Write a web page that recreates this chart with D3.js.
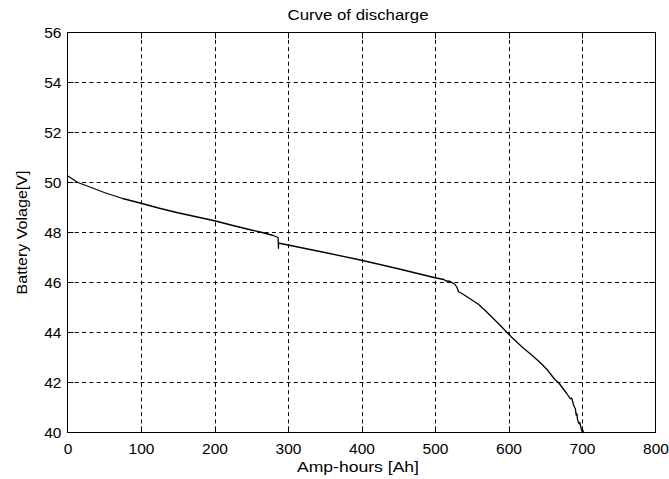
<!DOCTYPE html>
<html>
<head>
<meta charset="utf-8">
<script src="https://cdn.jsdelivr.net/npm/d3@7"></script>
<style>
  html, body { margin: 0; padding: 0; background: #fff; }
  svg { display: block; }
  text { font-family: "Liberation Sans", Arial, sans-serif; fill: #000; }
</style>
</head>
<body>
<svg id="chart" width="669" height="479"></svg>
<script>
// Discharge curve: cumulative amp-hours vs. battery voltage
const ampHours = [0, 14, 25, 50, 75, 100, 125, 150, 175, 200, 225, 250, 265, 280, 286.5, 287, 287, 288, 300, 350, 400, 450, 500, 512, 515, 520, 527, 530, 532, 536, 545, 559, 569, 579, 590, 597, 604, 620, 632, 643, 653, 663, 668, 679, 684, 686, 688.5, 690, 691, 692, 693, 694, 696, 697, 699, 700, 701, 702, 703];
const voltage  = [50.27, 50.0, 49.88, 49.6, 49.36, 49.17, 48.97, 48.79, 48.63, 48.47, 48.28, 48.1, 48.0, 47.88, 47.8, 47.37, 47.6, 47.57, 47.5, 47.2, 46.89, 46.55, 46.19, 46.12, 46.06, 46.05, 45.93, 45.8, 45.63, 45.57, 45.4, 45.13, 44.86, 44.57, 44.25, 44.03, 43.82, 43.38, 43.09, 42.8, 42.5, 42.12, 42.0, 41.57, 41.35, 41.38, 41.1, 41.0, 40.95, 40.7, 40.75, 40.5, 40.35, 40.4, 40.15, 40.05, 40.1, 40.0, 40.0];

const xTicks = [0, 100, 200, 300, 400, 500, 600, 700, 800];
const yTicks = [40, 42, 44, 46, 48, 50, 52, 54, 56];

const title = "Curve of discharge";
const xLabel = "Amp-hours [Ah]";
const yLabel = "Battery Volage[V]";

const svg = d3.select("#chart");
const plotL = 67.5, plotR = 655.5, plotT = 32.5, plotB = 432.5;

const x = d3.scaleLinear().domain([0, 800]).range([plotL, plotR]);
const y = d3.scaleLinear().domain([40, 56]).range([plotB, plotT]);

// Dashed grid
const grid = svg.append("g")
  .attr("stroke", "#000")
  .attr("stroke-width", 1)
  .attr("stroke-dasharray", "4,3.3");
grid.selectAll("line.v").data(xTicks.slice(1, -1)).join("line")
  .attr("x1", d => Math.round(x(d)) + 0.5).attr("x2", d => Math.round(x(d)) + 0.5)
  .attr("y1", plotT).attr("y2", plotB);
grid.selectAll("line.h").data(yTicks.slice(1, -1)).join("line")
  .attr("y1", d => Math.round(y(d) - 0.5) + 0.5).attr("y2", d => Math.round(y(d) - 0.5) + 0.5)
  .attr("x1", plotL).attr("x2", plotR);

// Discharge line
const pts = ampHours.map((a, i) => [a, voltage[i]]);
svg.append("path")
  .datum(pts)
  .attr("fill", "none")
  .attr("stroke", "#000")
  .attr("stroke-width", 1.3)
  .attr("stroke-linejoin", "round")
  .attr("d", d3.line().x(d => x(d[0])).y(d => y(d[1])));

// Axes box
svg.append("rect")
  .attr("x", plotL).attr("y", plotT)
  .attr("width", plotR - plotL).attr("height", plotB - plotT)
  .attr("fill", "none").attr("stroke", "#000").attr("stroke-width", 1);

// Axes with inward ticks on all sides
const xAxis = d3.axisBottom(x).tickValues(xTicks).tickSize(0).tickPadding(10).tickFormat(d3.format("d"));
const yAxis = d3.axisLeft(y).tickValues(yTicks).tickSize(0).tickPadding(6).tickFormat(d3.format("d"));

const gx = svg.append("g").attr("transform", `translate(0,${plotB})`).call(xAxis);
const gy = svg.append("g").attr("transform", `translate(${plotL},0)`).call(yAxis);
[gx, gy].forEach(g => {
  g.select(".domain").remove();
  g.selectAll("text").attr("font-size", 15.5).attr("font-family", "Liberation Sans, Arial, sans-serif").attr("fill", "#000");
});
gy.selectAll("text").attr("dy", "0.35em");

const ticks = svg.append("g").attr("stroke", "#000").attr("stroke-width", 1);
xTicks.slice(1, -1).forEach(t => {
  const px = Math.round(x(t)) + 0.5;
  ticks.append("line").attr("x1", px).attr("x2", px).attr("y1", plotB).attr("y2", plotB - 6);
  ticks.append("line").attr("x1", px).attr("x2", px).attr("y1", plotT).attr("y2", plotT + 6);
});
yTicks.slice(1, -1).forEach(t => {
  const py = Math.round(y(t) - 0.5) + 0.5;
  ticks.append("line").attr("y1", py).attr("y2", py).attr("x1", plotL).attr("x2", plotL + 6);
  ticks.append("line").attr("y1", py).attr("y2", py).attr("x1", plotR).attr("x2", plotR - 6);
});

// Labels
svg.append("text")
  .attr("x", 358).attr("y", 20)
  .attr("text-anchor", "middle").attr("font-size", 15.5)
  .attr("textLength", 141).attr("lengthAdjust", "spacingAndGlyphs")
  .text(title);
svg.append("text")
  .attr("x", 358).attr("y", 472)
  .attr("text-anchor", "middle").attr("font-size", 15.5)
  .attr("textLength", 122).attr("lengthAdjust", "spacingAndGlyphs")
  .text(xLabel);
svg.append("text")
  .attr("transform", `translate(27,${(plotT + plotB) / 2}) rotate(-90)`)
  .attr("text-anchor", "middle").attr("font-size", 15.5)
  .attr("textLength", 124).attr("lengthAdjust", "spacingAndGlyphs")
  .text(yLabel);
</script>
</body>
</html>
